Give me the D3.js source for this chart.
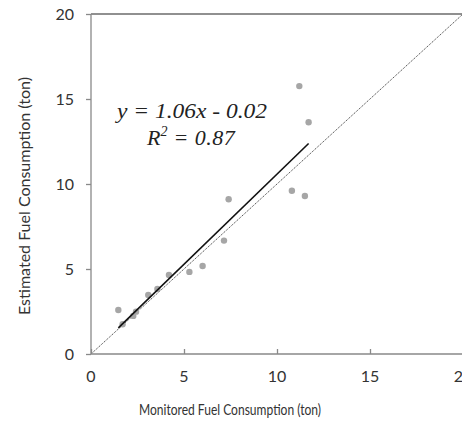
<!DOCTYPE html>
<html>
<head>
<meta charset="utf-8">
<script src="https://cdn.jsdelivr.net/npm/d3@7"></script>
<style>
  html, body { margin: 0; padding: 0; background: #fff; }
  svg { display: block; }
</style>
</head>
<body>
<svg id="chart" width="462" height="421"></svg>
<script>
// monitored vs estimated fuel consumption (ton)
const monitored = [1.47, 1.7, 2.27, 2.42, 3.08, 3.57, 4.19, 5.29, 6.0, 7.15, 7.4, 10.8, 11.2, 11.5, 11.7];
const estimated = [2.59, 1.75, 2.24, 2.49, 3.47, 3.82, 4.65, 4.83, 5.18, 6.67, 9.1, 9.6, 15.76, 9.29, 13.63];
const trend = [1.06, -0.02]; // slope, intercept
const ticks = [0, 5, 10, 15, 20];

const svg = d3.select('#chart');
const x = d3.scaleLinear().domain([0, 20]).range([91, 463]);
const y = d3.scaleLinear().domain([0, 20]).range([354, 14]);
const axisColor = '#898989';
const sans = 'Lato, "Open Sans", sans-serif';

// top border
svg.append('line')
  .attr('x1', x(0)).attr('x2', x(20))
  .attr('y1', y(20)).attr('y2', y(20))
  .attr('stroke', '#222').attr('stroke-width', 1.2);

// 1:1 reference line
svg.append('line')
  .attr('x1', x(0)).attr('y1', y(0))
  .attr('x2', x(20)).attr('y2', y(20))
  .attr('stroke', '#444').attr('stroke-width', 1)
  .attr('stroke-dasharray', '1.2,1');

// points
svg.append('g').selectAll('circle')
  .data(monitored)
  .join('circle')
  .attr('cx', d => x(d))
  .attr('cy', (d, i) => y(estimated[i]))
  .attr('r', 3.2)
  .attr('fill', '#a6a6a6');

// linear trendline
const x0 = d3.min(monitored), x1 = d3.max(monitored);
svg.append('line')
  .attr('x1', x(x0)).attr('y1', y(trend[0] * x0 + trend[1]))
  .attr('x2', x(x1)).attr('y2', y(trend[0] * x1 + trend[1]))
  .attr('stroke', '#111').attr('stroke-width', 1.6);

// axes
const xAxis = svg.append('g')
  .attr('transform', `translate(0,${y(0)})`)
  .call(d3.axisTop(x).tickValues(ticks).tickSize(5).tickFormat(''));
const yAxis = svg.append('g')
  .attr('transform', `translate(${x(0)},0)`)
  .call(d3.axisLeft(y).tickValues(ticks).tickSize(5).tickFormat(''));
[xAxis, yAxis].forEach(g => {
  g.selectAll('path, line').attr('stroke', axisColor).attr('stroke-width', 1.3);
  g.select('.domain').attr('d', g === xAxis ? `M${x(0)},0H${x(20)}` : `M0,${y(0)}V${y(20)}`);
});

// tick labels
svg.append('g').selectAll('text')
  .data(ticks)
  .join('text')
  .attr('x', d => x(d)).attr('y', 376)
  .attr('text-anchor', 'middle').attr('dy', '0.35em')
  .attr('font-family', sans).attr('font-size', 16).attr('fill', '#333')
  .text(d => d);
svg.append('g').selectAll('text')
  .data(ticks)
  .join('text')
  .attr('x', 74).attr('y', d => y(d))
  .attr('text-anchor', 'end').attr('dy', '0.35em')
  .attr('font-family', sans).attr('font-size', 16).attr('fill', '#333')
  .text(d => d);

// axis titles
svg.append('text')
  .attr('x', 139).attr('y', 410)
  .attr('dy', '0.35em')
  .attr('textLength', 182).attr('lengthAdjust', 'spacingAndGlyphs')
  .attr('font-family', sans).attr('font-size', 15).attr('fill', '#333')
  .text('Monitored Fuel Consumption (ton)');
svg.append('text')
  .attr('transform', 'translate(24,315) rotate(-90)')
  .attr('dy', '0.35em')
  .attr('textLength', 238).attr('lengthAdjust', 'spacingAndGlyphs')
  .attr('font-family', sans).attr('font-size', 16).attr('fill', '#333')
  .text('Estimated Fuel Consumption (ton)');

// equation
const eq = svg.append('text')
  .attr('font-family', '"Liberation Serif", "Times New Roman", serif')
  .attr('font-style', 'italic').attr('font-size', 22).attr('fill', '#222');
eq.append('tspan').attr('x', 117).attr('y', 118)
  .attr('textLength', 150).attr('lengthAdjust', 'spacingAndGlyphs')
  .text(`y = ${trend[0].toFixed(2)}x - ${Math.abs(trend[1]).toFixed(2)}`);
const r2 = eq.append('tspan').attr('x', 147).attr('y', 145);
r2.append('tspan').text('R');
r2.append('tspan').attr('dy', -9).attr('font-size', 14).text('2');
r2.append('tspan').attr('dy', 9).attr('letter-spacing', 0.5).text(' = 0.87');
</script>
</body>
</html>
